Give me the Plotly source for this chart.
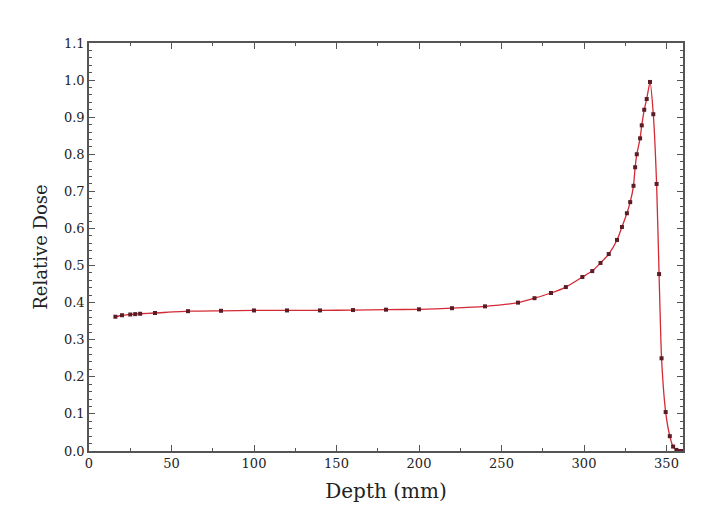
import plotly.graph_objects as go

depth_mm = [16, 20, 25, 28, 31, 40, 60, 80, 100, 120, 140, 160, 180, 200, 220, 240,
            260, 270, 280, 289, 299, 305, 310, 315, 320, 323, 326, 328, 330, 331, 332,
            334, 335, 336.5, 338, 340, 342, 344, 345.5, 347, 349.5, 352, 354, 356, 358, 359.5]
relative_dose = [0.362, 0.366, 0.368, 0.369, 0.370, 0.372, 0.377, 0.378, 0.379, 0.379,
                 0.379, 0.380, 0.381, 0.382, 0.385, 0.390, 0.400, 0.412, 0.426, 0.442,
                 0.469, 0.485, 0.507, 0.531, 0.569, 0.604, 0.641, 0.671, 0.715, 0.765,
                 0.800, 0.843, 0.878, 0.920, 0.949, 0.995, 0.908, 0.720, 0.477, 0.250,
                 0.105, 0.040, 0.012, 0.003, 0.0, 0.0]

x_ticks = [0, 50, 100, 150, 200, 250, 300, 350]
y_ticks = [0.0, 0.1, 0.2, 0.3, 0.4, 0.5, 0.6, 0.7, 0.8, 0.9, 1.0, 1.1]

font_serif = "DejaVu Serif, Liberation Serif, serif"

fig = go.Figure()
fig.add_trace(go.Scatter(
    x=depth_mm, y=relative_dose, mode="lines+markers",
    line=dict(color="#d42a35", width=1.3, shape="spline", smoothing=0.5),
    marker=dict(symbol="square", size=4, color="#5a1c26"),
    showlegend=False,
))

axis_common = dict(
    showline=True, linecolor="#555555", linewidth=1.5, mirror="allticks",
    ticks="inside", tickcolor="#555555", ticklen=6, tickwidth=1,
    showgrid=False, zeroline=False,
    tickfont=dict(family=font_serif, size=13, color="#222222"),
)

fig.update_xaxes(
    range=[0, 360], tickvals=x_ticks, ticktext=[str(v) for v in x_ticks],
    title=dict(text="Depth (mm)", font=dict(family=font_serif, size=20, color="#222222"), standoff=14),
    minor=dict(ticks="inside", dtick=25, ticklen=3, tickcolor="#555555"),
    **axis_common,
)
fig.update_yaxes(
    range=[0, 1.1], tickvals=y_ticks, ticktext=[f"{v:.1f}" for v in y_ticks],
    title=dict(text="Relative Dose", font=dict(family=font_serif, size=18, color="#222222"), standoff=12),
    minor=dict(ticks="inside", dtick=0.02, ticklen=3, tickcolor="#555555"),
    **axis_common,
)

fig.update_layout(
    width=717, height=529,
    margin=dict(l=89, r=34, t=43, b=78),
    paper_bgcolor="white", plot_bgcolor="white",
)

fig.write_html("out.html")
